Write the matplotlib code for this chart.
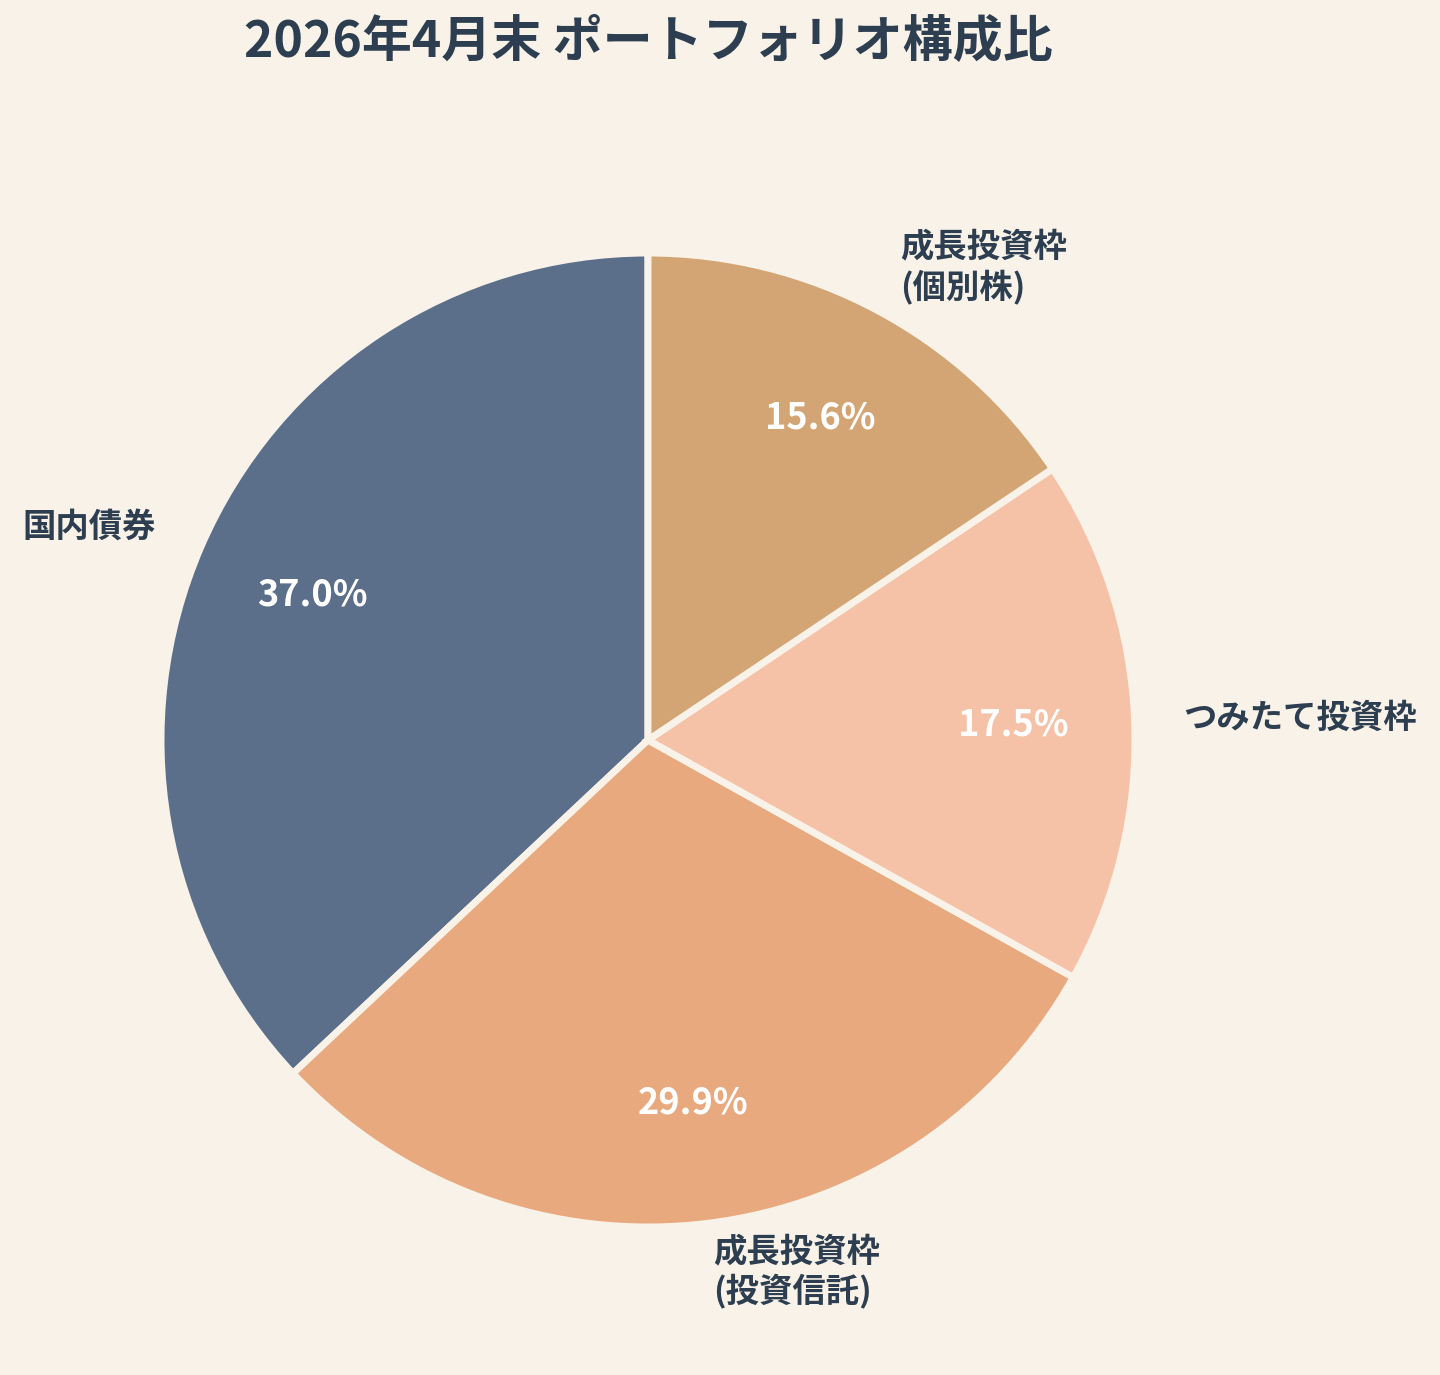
import matplotlib
matplotlib.use("Agg")
import matplotlib.pyplot as plt

plt.rcParams['font.family'] = ['Noto Sans CJK JP', 'DejaVu Sans']

# data, counterclockwise from the top
labels = ["国内債券", "成長投資枠\n(投資信託)", "つみたて投資枠", "成長投資枠\n(個別株)"]
values = [37.0, 29.9, 17.5, 15.6]
colors = ["#5B6E8A", "#E8A97E", "#F5C2A8", "#D4A574"]

bg = "#F8F2E8"
text_color = "#2C3E50"

fig = plt.figure(figsize=(14.4, 13.75), dpi=100, facecolor=bg)
ax = fig.add_axes([0.0, 0.0, 1.0, 1.0])
ax.set_facecolor(bg)

wedges, texts, autotexts = ax.pie(
    values, labels=labels, colors=colors, startangle=90, counterclock=True,
    autopct="%1.1f%%", pctdistance=0.75, labeldistance=1.1,
    wedgeprops=dict(edgecolor=bg, linewidth=5),
    textprops=dict(color=text_color, fontsize=24, fontweight="bold"),
    radius=1.0, center=(0, 0),
)
for t in autotexts:
    t.set_color("white")
    t.set_fontsize(26)
    t.set_fontweight("bold")

# place the pie: center ~ (648, 740) px, radius ~ 487 px
W, H = 1440, 1375
r = 487
cx, cy = 648, 740
ax.set_xlim(-cx / r, (W - cx) / r)
ax.set_ylim(-(H - cy) / r, cy / r)
ax.set_aspect("equal")
ax.axis("off")

fig.text(648 / W, 1 - 43 / H, "2026年4月末 ポートフォリオ構成比", ha="center", va="center",
         fontsize=36, fontweight="bold", color=text_color)

fig.savefig("out.png", dpi=100, facecolor=bg)
